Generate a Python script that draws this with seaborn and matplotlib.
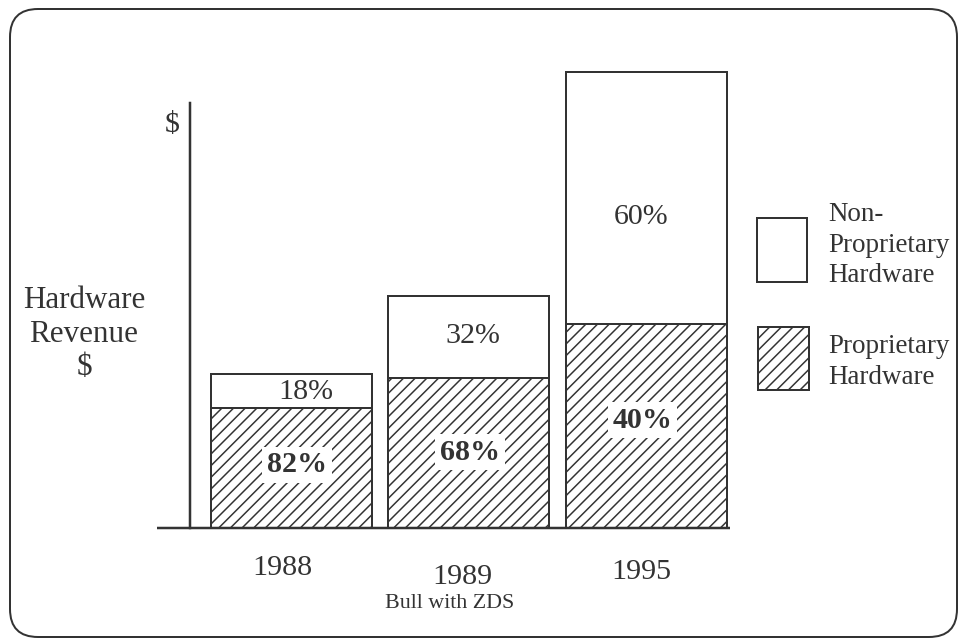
import matplotlib
matplotlib.use('Agg')
import matplotlib.pyplot as plt
import seaborn as sns
import pandas as pd
from matplotlib.patches import FancyBboxPatch, Rectangle
from matplotlib.transforms import IdentityTransform

# ---- data (bar heights in relative revenue units) ----
years = ['1988', '1989', '1995']
proprietary = [120, 150, 204]
non_proprietary = [34, 82, 252]
proprietary_pct = ['82%', '68%', '40%']
non_proprietary_pct = ['18%', '32%', '60%']
legend_labels = ['Non-\nProprietary\nHardware', 'Proprietary\nHardware']
y_title = 'Hardware\nRevenue\n$'
axis_unit = '$'
x_title = 'Bull with ZDS'

# ---- layout ----
W, H, DPI = 962, 640, 70
PT = 72 / DPI
INK = '#333333'
HATCH = '//'

sns.set_style('white')
plt.rcParams['font.family'] = ['Liberation Serif', 'DejaVu Serif']
plt.rcParams['hatch.color'] = INK
plt.rcParams['hatch.linewidth'] = 1.5 * PT
plt.rcParams['text.color'] = INK

df = pd.DataFrame({'year': years, 'prop': proprietary, 'nonprop': non_proprietary})
df['total'] = df['prop'] + df['nonprop']

fig = plt.figure(figsize=(W / DPI, H / DPI), dpi=DPI)
fig.patch.set_facecolor('white')


def fx(x):
    return x / W


def fy(y):
    return 1 - y / H


ax_l, ax_r, ax_b, ax_t = 190, 730, 528, 58
ax = fig.add_axes([fx(ax_l), fy(ax_b), (ax_r - ax_l) / W, (ax_b - ax_t) / H])
ax.patch.set_alpha(0)
c0, step = 291.5, 177.25
bar_w = 161 / step

sns.barplot(data=df, x='year', y='total', color='white', saturation=1,
            edgecolor=INK, linewidth=2 * PT, width=bar_w, errorbar=None, ax=ax)
sns.barplot(data=df, x='year', y='prop', color='white', saturation=1,
            edgecolor=INK, linewidth=2 * PT, width=bar_w, errorbar=None,
            hatch=HATCH, ax=ax)

ax.set_xlim((ax_l - c0) / step, (ax_r - c0) / step)
ax.set_ylim(0, ax_b - ax_t)
for s in ['top', 'right', 'bottom']:
    ax.spines[s].set_visible(False)
ax.spines['left'].set_bounds(0, ax_b - 103)
ax.spines['left'].set_color(INK)
ax.spines['left'].set_linewidth(2.5 * PT)
ax.set_xticks([])
ax.set_yticks([])
ax.set_xlabel('')
ax.set_ylabel('')
ax.plot([(157 - c0) / step, (ax_r - c0) / step], [0, 0], color=INK,
        lw=2.5 * PT, clip_on=False, zorder=5, solid_capstyle='butt')

# ---- value labels ----
nonprop_xy = [(306, 392), (473, 336), (641, 217)]
prop_xy = [(297, 465), (470, 452), (643, 420)]
for (x, y), t in zip(nonprop_xy, non_proprietary_pct):
    fig.text(fx(x), fy(y), t, ha='center', va='center', fontsize=30 * PT)
for (x, y), t in zip(prop_xy, proprietary_pct):
    fig.text(fx(x), fy(y), t, ha='center', va='center', fontsize=30 * PT,
             fontweight='bold',
             bbox=dict(boxstyle='square,pad=0.15', fc='white', ec='none'))

# ---- year labels and titles ----
year_xy = [(282, 568), (462, 577), (641, 572)]
for (x, y), t in zip(year_xy, years):
    fig.text(fx(x), fy(y), t, ha='center', va='center', fontsize=30 * PT)
fig.text(fx(450), fy(603), x_title, ha='center', va='center', fontsize=22 * PT)
fig.text(fx(84), fy(334), y_title, ha='center', va='center',
         multialignment='center', fontsize=31 * PT, linespacing=1.22)
fig.text(fx(172), fy(125), axis_unit, ha='center', va='center', fontsize=30 * PT)

# ---- legend ----
fig.add_artist(Rectangle((757, H - 282), 50, 64, transform=IdentityTransform(),
                         fc='white', ec=INK, lw=2 * PT))
fig.add_artist(Rectangle((758, H - 390), 51, 63, transform=IdentityTransform(),
                         fc='white', ec=INK, lw=2 * PT, hatch=HATCH))
fig.text(fx(828), fy(245), legend_labels[0], ha='left', va='center',
         fontsize=27 * PT, linespacing=1.27)
fig.text(fx(828), fy(362), legend_labels[1], ha='left', va='center',
         fontsize=27 * PT, linespacing=1.27)

# ---- rounded frame ----
fig.add_artist(FancyBboxPatch((10, 3), 947, 628,
                              boxstyle='round,pad=0,rounding_size=28',
                              transform=IdentityTransform(),
                              fc='none', ec=INK, lw=2 * PT))

fig.savefig('out.png', dpi=DPI, facecolor='white')
